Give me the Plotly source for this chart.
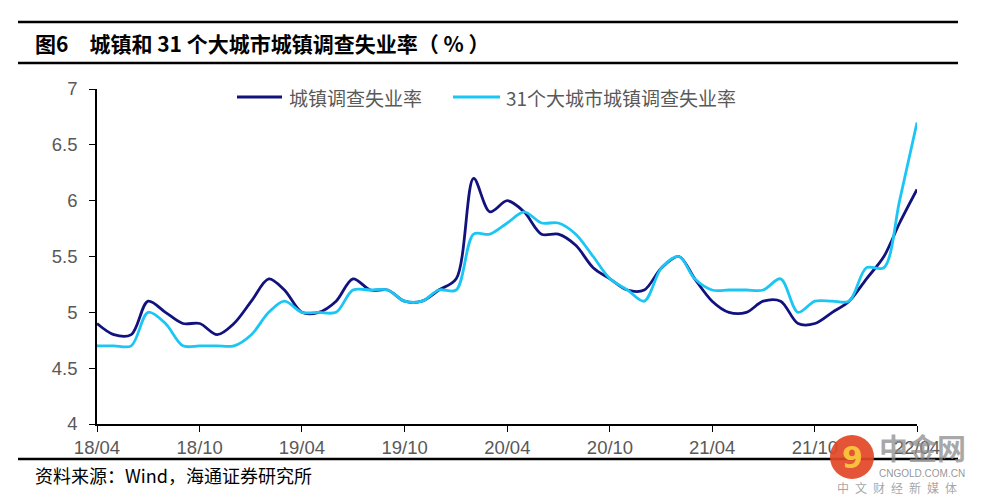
import plotly.graph_objects as go

# ---- data ----
months = [
    "2018-04", "2018-05", "2018-06", "2018-07", "2018-08", "2018-09", "2018-10", "2018-11", "2018-12",
    "2019-01", "2019-02", "2019-03", "2019-04", "2019-05", "2019-06", "2019-07", "2019-08", "2019-09",
    "2019-10", "2019-11", "2019-12",
    "2020-01", "2020-02", "2020-03", "2020-04", "2020-05", "2020-06", "2020-07", "2020-08", "2020-09",
    "2020-10", "2020-11", "2020-12",
    "2021-01", "2021-02", "2021-03", "2021-04", "2021-05", "2021-06", "2021-07", "2021-08", "2021-09",
    "2021-10", "2021-11", "2021-12",
    "2022-01", "2022-02", "2022-03", "2022-04",
]
urban_rate = [
    4.9, 4.8, 4.8, 5.1, 5.0, 4.9, 4.9, 4.8, 4.9,
    5.1, 5.3, 5.2, 5.0, 5.0, 5.1, 5.3, 5.2, 5.2, 5.1, 5.1, 5.2,
    5.3, 6.2, 5.9, 6.0, 5.9, 5.7, 5.7, 5.6, 5.4, 5.3, 5.2, 5.2,
    5.4, 5.5, 5.3, 5.1, 5.0, 5.0, 5.1, 5.1, 4.9, 4.9, 5.0, 5.1,
    5.3, 5.5, 5.8, 6.1,
]
city31_rate = [
    4.7, 4.7, 4.7, 5.0, 4.9, 4.7, 4.7, 4.7, 4.7,
    4.8, 5.0, 5.1, 5.0, 5.0, 5.0, 5.2, 5.2, 5.2, 5.1, 5.1, 5.2,
    5.2, 5.7, 5.7, 5.8, 5.9, 5.8, 5.8, 5.7, 5.5, 5.3, 5.2, 5.1,
    5.4, 5.5, 5.3, 5.2, 5.2, 5.2, 5.2, 5.3, 5.0, 5.1, 5.1, 5.1,
    5.4, 5.4, 6.0, 6.7,
]
series_names = ["城镇调查失业率", "31个大城市城镇调查失业率"]
series_colors = ["#12127E", "#1CC6F4"]
title_text = "图6\u2003城镇和 31 个大城市城镇调查失业率（ % ）"
source_text = "资料来源：Wind，海通证券研究所"
y_ticks = [4, 4.5, 5, 5.5, 6, 6.5, 7]

# ---- layout geometry (pixels, in the reference picture) ----
OFF = 8  # page body margin
W, H = 982 - OFF, 504 - OFF
L, R, T, B = 97, 917, 89, 424  # plot area edges in picture pixels


def px_x(p):
    return (p - L) / (R - L)


def px_y(p):
    return (B - p) / (B - T)


fig = go.Figure()
for name, vals, col in zip(series_names, [urban_rate, city31_rate], series_colors):
    fig.add_trace(go.Scatter(
        x=months, y=vals, name=name, mode="lines",
        line=dict(color=col, width=2.8, shape="spline", smoothing=0.9),
        showlegend=False,
    ))

cjk = "Noto Sans CJK SC"
shapes = []
annotations = []

# header rules
for py in (22, 63):
    shapes.append(dict(type="line", xref="paper", yref="paper",
                       x0=px_x(18), x1=px_x(958), y0=px_y(py), y1=px_y(py),
                       line=dict(color="black", width=2.6)))
# footer rule
shapes.append(dict(type="line", xref="paper", yref="paper",
                   x0=px_x(18), x1=px_x(958), y0=px_y(459), y1=px_y(459),
                   line=dict(color="black", width=2.6)))

annotations.append(dict(text="<b>" + title_text + "</b>", xref="paper", yref="paper",
                        x=px_x(33), y=px_y(43), xanchor="left", yanchor="middle",
                        showarrow=False, font=dict(family=cjk, size=21, color="black")))
annotations.append(dict(text=source_text, xref="paper", yref="paper",
                        x=px_x(33), y=px_y(475), xanchor="left", yanchor="middle",
                        showarrow=False, font=dict(family=cjk, size=18, color="black")))

# manual legend
leg = [(237, 282, 287), (453, 500, 504)]
for (x0, x1, tx), name, col in zip(leg, series_names, series_colors):
    shapes.append(dict(type="line", xref="paper", yref="paper",
                       x0=px_x(x0), x1=px_x(x1), y0=px_y(97), y1=px_y(97),
                       line=dict(color=col, width=2.8)))
    annotations.append(dict(text=name, xref="paper", yref="paper",
                            x=px_x(tx), y=px_y(97), xanchor="left", yanchor="middle",
                            showarrow=False, font=dict(family=cjk, size=19, color="#595959")))

# watermark (中金网)
shapes.append(dict(type="circle", xref="paper", yref="paper",
                   x0=px_x(830), x1=px_x(874), y0=px_y(435), y1=px_y(479),
                   fillcolor="rgba(226,70,38,0.92)", line=dict(width=0)))
annotations.append(dict(text="<b>9</b>", xref="paper", yref="paper",
                        x=px_x(852), y=px_y(457), xanchor="center", yanchor="middle",
                        showarrow=False, font=dict(family="DejaVu Sans", size=30,
                                                   color="rgba(250,200,60,0.95)")))
annotations.append(dict(text="<b>中金网</b>", xref="paper", yref="paper",
                        x=px_x(922), y=px_y(447), xanchor="center", yanchor="middle",
                        showarrow=False, font=dict(family=cjk, size=29,
                                                   color="rgba(140,140,140,0.75)")))
annotations.append(dict(text="CNGOLD.COM.CN", xref="paper", yref="paper",
                        x=px_x(922), y=px_y(473), xanchor="center", yanchor="middle",
                        showarrow=False, font=dict(family="Liberation Sans", size=10,
                                                   color="rgba(130,130,130,0.85)")))
annotations.append(dict(text="\u2002".join("中文财经新媒体"), xref="paper", yref="paper",
                        x=px_x(897), y=px_y(487), xanchor="center", yanchor="middle",
                        showarrow=False, font=dict(family=cjk, size=12,
                                                   color="rgba(150,150,150,0.85)")))

fig.update_layout(
    width=W, height=H,
    margin=dict(l=L - OFF, r=(W + OFF) - R, t=T - OFF, b=(H + OFF) - B, pad=0),
    paper_bgcolor="white", plot_bgcolor="white",
    shapes=shapes, annotations=annotations,
    xaxis=dict(type="date", range=["2018-04-01", "2022-04-01"],
               tick0="2018-04-01", dtick="M6", tickformat="%y/%m",
               showline=True, linecolor="black", linewidth=1.5,
               ticks="outside", ticklen=6, tickcolor="black", tickwidth=1.2,
               showgrid=False, zeroline=False,
               tickfont=dict(family="Liberation Sans", size=18.5, color="#595959")),
    yaxis=dict(range=[4, 7], tickvals=y_ticks,
               showline=True, linecolor="black", linewidth=1.5,
               ticks="outside", ticklen=6, tickcolor="black", tickwidth=1.2,
               showgrid=False, zeroline=False, ticklabelstandoff=8,
               tickfont=dict(family="Liberation Sans", size=18.5, color="#595959")),
)

fig.write_html("out.html")
